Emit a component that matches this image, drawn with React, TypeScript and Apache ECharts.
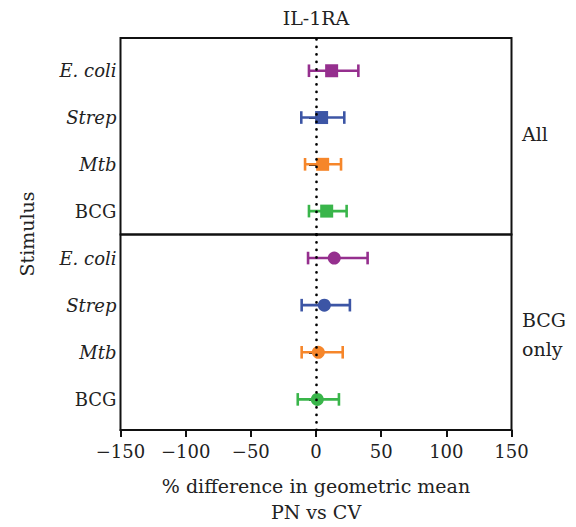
import React, { useEffect, useRef } from "react";
import * as echarts from "echarts";

const categories = ["BCG", "Mtb", "Strep", "E. coli"]; // y = 1..4
const italicCats = ["Mtb", "Strep", "E. coli"];
const colors = ["#39b54a", "#f6862a", "#3c55a5", "#952f8e"];

// top panel "All" (order: BCG, Mtb, Strep, E. coli)
const allMean = [8.2, 5.1, 4.3, 12];
const allLow = [-5.4, -8.4, -11.3, -5.4];
const allHigh = [23.5, 19.2, 21.7, 32.5];

// bottom panel "BCG only"
const bcgMean = [1, 1.8, 6.4, 14];
const bcgLow = [-14, -11, -11, -6.1];
const bcgHigh = [17.6, 20.5, 26, 39.6];

const xTicks = [-150, -100, -50, 0, 50, 100, 150];

const FONT = "DejaVu Serif";
const FS = 19;
const TICK_FS = 18;

export default function App() {
  const ref = useRef<HTMLDivElement>(null);
  useEffect(() => {
    document.body.style.margin = "0";
    const chart = echarts.init(ref.current!, null, { renderer: "svg" });

    const yAxisBase = (gridIndex: number, min: number, max: number) => ({
      type: "value",
      gridIndex,
      min,
      max,
      axisLine: { show: false },
      splitLine: { show: false },
      axisTick: { show: true, length: 7, customValues: [1, 2, 3, 4], lineStyle: { color: "#111", width: 2 } },
      axisLabel: {
        show: true,
        margin: 4,
        customValues: [1, 2, 3, 4],
        formatter: (v: number) => {
          const c = categories[Math.round(v) - 1];
          if (!c) return "";
          return italicCats.includes(c) ? `{i|${c}}` : `{n|${c}}`;
        },
        rich: {
          i: { fontFamily: FONT, fontSize: TICK_FS, fontStyle: "italic", color: "#222" },
          n: { fontFamily: FONT, fontSize: TICK_FS, color: "#222" },
        },
      },
    });

    const errSeries = (idx: number, lo: number[], hi: number[]) => ({
      type: "custom",
      xAxisIndex: idx,
      yAxisIndex: idx,
      z: 3,
      encode: { x: [0, 2], y: 1 },
      data: lo.map((l, i) => [l, i + 1, hi[i]]),
      renderItem: (params: any, api: any) => {
        const c = colors[params.dataIndex];
        const a = api.coord([api.value(0), api.value(1)]);
        const b = api.coord([api.value(2), api.value(1)]);
        const h = 6.3;
        const st = { stroke: c, lineWidth: 2.6 };
        return {
          type: "group",
          children: [
            { type: "line", shape: { x1: a[0], y1: a[1], x2: b[0], y2: b[1] }, style: st },
            { type: "line", shape: { x1: a[0], y1: a[1] - h, x2: a[0], y2: a[1] + h }, style: st },
            { type: "line", shape: { x1: b[0], y1: b[1] - h, x2: b[0], y2: b[1] + h }, style: st },
          ],
        };
      },
    });

    const ptSeries = (idx: number, mean: number[], symbol: string, size: number) => ({
      type: "scatter",
      xAxisIndex: idx,
      yAxisIndex: idx,
      z: 4,
      symbol,
      symbolSize: size,
      itemStyle: { opacity: 1 },
      data: mean.map((m, i) => ({ value: [m, i + 1], itemStyle: { color: colors[i], opacity: 1 } })),
    });

    const zeroLine = (idx: number) => ({
      type: "line",
      xAxisIndex: idx,
      yAxisIndex: idx,
      z: 1,
      data: [],
      markLine: {
        silent: true,
        symbol: "none",
        label: { show: false },
        lineStyle: { color: "#000", type: [0.1, 7.4], cap: "round", width: 2.7 },
        data: [{ xAxis: 0 }],
      },
    });

    const txt = (text: string, x: number, y: number, align: string, extra: any = {}) => ({
      type: "text",
      x,
      y,
      ...extra,
      style: { text, font: `${FS}px ${FONT}`, fill: "#222", align, verticalAlign: "middle", ...(extra.style || {}) },
    });

    chart.setOption({
      animation: false,
      grid: [
        { left: 120.5, right: 64.5, top: 38, height: 196.5, show: true, borderColor: "#111", borderWidth: 2, backgroundColor: "transparent" },
        { left: 120.5, right: 64.5, top: 234.5, height: 195.5, show: true, borderColor: "#111", borderWidth: 2, backgroundColor: "transparent" },
      ],
      xAxis: [
        { type: "value", gridIndex: 0, min: -150, max: 150, interval: 50, show: false, splitLine: { show: false } },
        {
          type: "value",
          gridIndex: 1,
          min: xTicks[0],
          max: xTicks[xTicks.length - 1],
          interval: 50,
          splitLine: { show: false },
          axisLine: { show: true, lineStyle: { color: "#111", width: 2 } },
          axisTick: { show: true, length: 7, lineStyle: { color: "#111", width: 2 } },
          axisLabel: {
            margin: 12,
            fontFamily: FONT,
            fontSize: TICK_FS,
            color: "#222",
            formatter: (v: number) => (v < 0 ? "\u2212" + Math.abs(v) : String(v)),
          },
        },
      ],
      yAxis: [yAxisBase(0, 0.5, 4.7), yAxisBase(1, 0.35, 4.5)],
      series: [
        zeroLine(0),
        zeroLine(1),
        errSeries(0, allLow, allHigh),
        errSeries(1, bcgLow, bcgHigh),
        ptSeries(0, allMean, "rect", 13),
        ptSeries(1, bcgMean, "circle", 13),
      ],
      graphic: [
        txt("IL-1RA", 316, 18, "center"),
        txt("All", 522, 134, "left"),
        txt("BCG\nonly", 522, 334, "left", { style: { lineHeight: 29 } }),
        txt("Stimulus", 27, 234, "center", { rotation: Math.PI / 2 }),
        txt("% difference in geometric mean", 316, 486, "center"),
        txt("PN vs CV", 316, 512, "center"),
      ],
    });
    return () => chart.dispose();
  }, []);
  return <div ref={ref} style={{ width: 576, height: 527 }} />;
}
